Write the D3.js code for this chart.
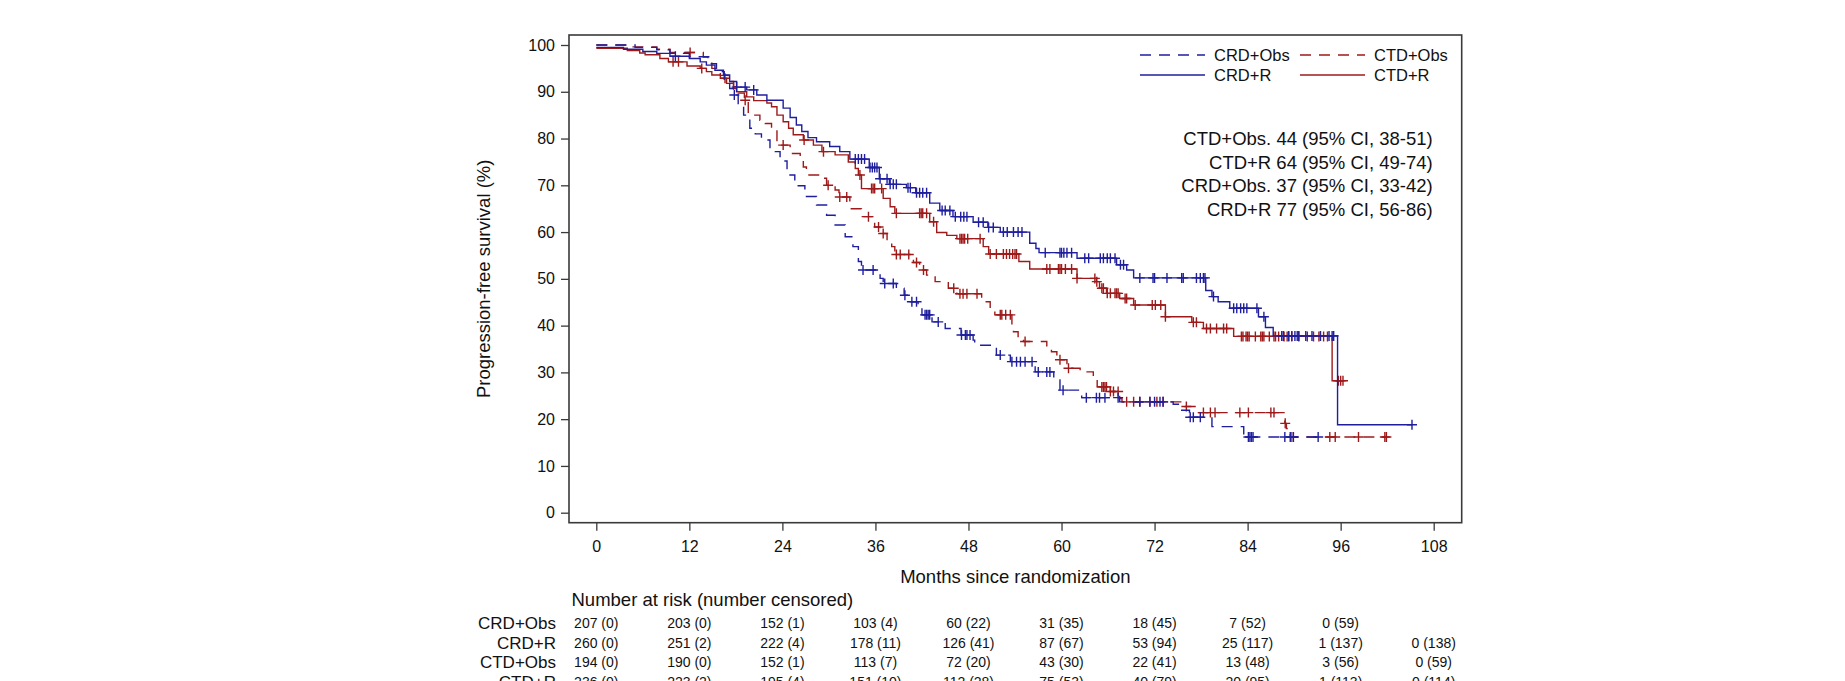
<!DOCTYPE html>
<html>
<head>
<meta charset="utf-8">
<script src="https://cdn.jsdelivr.net/npm/d3@7"></script>
<style>
  body { margin: 0; background: #fff; }
  svg { display: block; font-family: "Liberation Sans", Arial, sans-serif; }
</style>
</head>
<body>
<svg id="chart"></svg>
<script>
"use strict";

const months = [0, 12, 24, 36, 48, 60, 72, 84, 96, 108];
const yTicks = [0, 10, 20, 30, 40, 50, 60, 70, 80, 90, 100];

// Kaplan-Meier steps: [month, survival %]
const crdObsSteps = [[0, 100], [5, 99.5], [7.8, 99.0], [9.5, 98.2], [12, 97.5], [14.5, 96.0], [15.5, 94.3],
  [16.5, 92.5], [17.2, 90.7], [17.7, 89.3], [18.3, 87.5], [19, 85.0], [19.8, 82.2], [20.5, 81.0],
  [21.3, 79.7], [22.4, 77.2], [23.7, 75.2], [24.6, 72.2], [25.6, 69.9], [26.9, 67.6], [28.4, 65.8],
  [29.7, 63.6], [30.8, 61.5], [32.1, 59.0], [33.1, 56.9], [33.8, 53.7], [34.2, 51.9], [36.6, 50.1],
  [37, 49.0], [38.7, 48.0], [39.7, 46.5], [40.5, 45.1], [41.5, 43.7], [42, 42.3], [43.3, 40.8],
  [45, 39.4], [47.05, 38.0], [48.6, 36.9], [48.8, 35.8], [51, 35.1], [51.6, 33.7], [53.4, 32.3],
  [56.6, 30.1], [59, 28.4], [59.8, 26.2], [62.6, 24.6], [67.5, 23.7], [74.4, 23.2], [75.3, 21.9],
  [76.5, 20.4], [79.4, 18.4], [83.5, 16.2]];
const crdObsCens = [17.8, 34.4, 35.7, 37.2, 38.3, 39.8, 40.7, 41.3, 42.4, 42.6, 42.8, 43.0, 44.1, 47.1,
  47.6, 47.8, 48.2, 52.1, 53.6, 54.2, 54.7, 55.3, 56.2, 57.0, 58.1, 58.5, 60.2, 63.2, 64.5, 64.9, 65.6,
  67.3, 70.1, 71.4, 72.0, 72.7, 73.1, 76.6, 77.0, 77.9, 84.1, 84.3, 84.5, 84.7, 88.8, 89.5, 89.9, 93.1];
const crdObsEnd = 93.1;

const crdRSteps = [[0, 99.5], [3.5, 99.1], [6, 98.6], [7.8, 98.2], [9.5, 97.6], [12, 97.1], [13.4, 96.4],
  [14.2, 95.7], [15.3, 94.6], [16.4, 93.6], [17.2, 92.2], [18.1, 91.0], [19.4, 90.4], [20.7, 89.3],
  [22, 88.2], [24.1, 86.5], [25, 84.5], [25.8, 82.9], [26.5, 81.5], [27.3, 80.2], [28.4, 79.3],
  [30.1, 78.3], [31.4, 77.2], [32.7, 75.6], [35.2, 73.8], [36.5, 71.4], [37.8, 70.2], [40, 69.5],
  [41.2, 68.4], [43, 66.2], [44.3, 64.6], [46, 63.3], [48.6, 62.1], [50.5, 61.0], [52.1, 60.0],
  [55.9, 57.6], [56.7, 56.5], [57.1, 55.6], [62, 54.4], [67.1, 53.0], [68.4, 51.9], [69.3, 50.2],
  [78.6, 47.5], [79.4, 46.2], [80.2, 45.1], [81.7, 43.7], [85.4, 41.9], [86.3, 39.6], [87.3, 37.8],
  [95.6, 18.8]];
const crdRCens = [10.2, 18.1, 19.2, 20.3, 33.4, 33.8, 34.2, 34.6, 35.3, 35.6, 35.9, 36.2, 36.6, 37.5,
  37.9, 38.3, 38.7, 40.2, 40.5, 41.3, 41.7, 42.1, 42.6, 44.6, 45.0, 45.6, 46.3, 47.0, 47.4, 47.8, 49.3,
  49.9, 50.6, 51.2, 52.5, 53.0, 53.8, 54.4, 54.9, 57.9, 59.8, 60.0, 60.3, 60.7, 61.3, 63.0, 63.5, 65.0,
  65.4, 65.9, 66.3, 66.9, 67.6, 68.0, 70.1, 71.8, 72.0, 73.6, 75.5, 75.7, 77.4, 77.9, 78.3, 78.5, 79.6,
  82.2, 82.6, 83.1, 83.5, 83.9, 85.2, 86.1, 88.4, 88.6, 89.3, 89.7, 90.1, 90.4, 90.6, 91.5, 92.3, 93.4,
  94.5, 94.9, 95.1, 105.2];
const crdREnd = 105.2;

const ctdObsSteps = [[0, 100], [4, 99.6], [7.8, 99.1], [9.5, 98.4], [13.8, 97.4], [14.4, 96.1], [14.9, 95.0],
  [16, 93.5], [17, 92.2], [17.7, 91.1], [18.3, 89.7], [19.1, 88.2], [19.6, 85.0], [21.1, 83.9],
  [21.8, 83.2], [22.6, 81.8], [23.3, 78.6], [25, 76.8], [26.3, 75.7], [26.7, 73.9], [27.1, 72.2],
  [29.1, 71.5], [29.7, 70.0], [30.8, 69.0], [31.3, 67.5], [32.7, 65.0], [34.2, 63.3], [35.9, 61.1],
  [36.6, 59.7], [37.5, 57.9], [38.1, 56.9], [38.5, 55.2], [40.9, 53.5], [41.7, 51.9], [42.6, 50.8],
  [43.7, 49.4], [45.4, 48.0], [46.5, 46.8], [49.7, 45.1], [50.8, 43.7], [51.4, 42.3], [53.6, 40.1],
  [53.8, 38.7], [54.4, 37.3], [55.1, 36.6], [58.1, 35.5], [58.7, 34.4], [59.4, 32.7], [60.7, 30.9],
  [62.4, 30.1], [64.1, 28.7], [64.6, 26.9], [66.3, 25.9], [67.5, 24.4], [67.8, 23.7], [75.9, 22.7],
  [77.4, 21.4], [88.8, 19.1], [89, 18.0], [89.5, 16.2]];
const ctdObsCens = [12.1, 19.2, 24.1, 29.9, 31.4, 32.3, 35.1, 36.4, 37.0, 38.7, 39.2, 40.3, 41.3, 42.2,
  46.1, 46.9, 47.3, 47.8, 49.1, 52.1, 52.3, 52.8, 53.4, 55.3, 59.8, 60.9, 65.2, 65.4, 65.6, 65.8, 66.3,
  66.7, 67.3, 68.4, 69.3, 70.1, 71.4, 72.3, 73.1, 76.1, 78.3, 79.2, 79.8, 83.0, 84.1, 87.0, 87.4, 88.85,
  89.6, 89.9, 94.6, 95.3, 98.3, 101.7, 101.9];
const ctdObsEnd = 101.9;

const ctdRSteps = [[0, 99.3], [4, 98.8], [5.6, 98.3], [6.3, 97.9], [8.2, 97.1], [9.3, 96.4], [11.7, 95.5],
  [13.4, 95.0], [14.2, 94.3], [14.9, 93.6], [16, 92.9], [16.8, 91.8], [17.7, 90.7], [18.1, 90.0],
  [19.4, 88.9], [20.3, 88.1], [22, 87.6], [22.6, 86.8], [23.3, 85.0], [24.1, 83.6], [24.8, 82.2],
  [25.4, 80.8], [26.7, 79.7], [28, 78.6], [29.1, 77.2], [30.8, 76.5], [32.5, 75.0], [33.4, 73.6],
  [33.8, 72.2], [34.2, 69.3], [37, 67.2], [37.9, 65.4], [38.5, 64.0], [43, 62.2], [43.9, 59.9],
  [45.2, 59.3], [46.5, 58.6], [49.9, 56.9], [50.6, 55.3], [54.5, 53.7], [55.9, 52.1], [62, 50.1],
  [64.5, 49.4], [64.9, 48.0], [65.8, 46.9], [67.5, 45.8], [69.3, 44.4], [73.4, 41.9], [76.8, 40.7],
  [78.3, 39.4], [82.2, 37.7], [94.9, 28.2]];
const ctdRCens = [9.9, 10.6, 13.6, 16.6, 26.8, 29.3, 34.0, 35.5, 35.7, 35.9, 36.8, 38.7, 41.7, 41.9, 42.1,
  42.6, 43.5, 46.9, 47.1, 47.3, 47.5, 47.9, 49.5, 50.8, 51.6, 52.5, 52.9, 53.3, 53.7, 54.0, 54.2, 58.1,
  58.5, 59.6, 59.8, 60.0, 60.5, 61.3, 62.0, 64.3, 64.55, 65.2, 65.4, 65.9, 66.3, 66.9, 67.1, 67.3, 68.2,
  68.4, 69.5, 71.7, 72.1, 72.8, 73.4, 77.0, 77.4, 78.7, 79.2, 80.0, 80.9, 81.3, 83.2, 83.4, 83.8, 84.0,
  84.2, 85.0, 85.7, 85.9, 86.1, 86.8, 87.4, 87.6, 88.0, 88.7, 89.1, 89.3, 89.7, 90.6, 91.7, 92.5, 93.2,
  93.8, 94.3, 95.7, 96.0, 96.3];
const ctdREnd = 96.3;

// number at risk (number censored)
const riskGroups = ["CRD+Obs", "CRD+R", "CTD+Obs", "CTD+R"];
const riskCrdObs = ["207 (0)", "203 (0)", "152 (1)", "103 (4)", "60 (22)", "31 (35)", "18 (45)", "7 (52)", "0 (59)", ""];
const riskCrdR = ["260 (0)", "251 (2)", "222 (4)", "178 (11)", "126 (41)", "87 (67)", "53 (94)", "25 (117)", "1 (137)", "0 (138)"];
const riskCtdObs = ["194 (0)", "190 (0)", "152 (1)", "113 (7)", "72 (20)", "43 (30)", "22 (41)", "13 (48)", "3 (56)", "0 (59)"];
const riskCtdR = ["236 (0)", "223 (2)", "195 (4)", "151 (10)", "112 (28)", "75 (53)", "40 (79)", "20 (95)", "1 (113)", "0 (114)"];

const medianLines = ["CTD+Obs. 44 (95% CI, 38-51)", "CTD+R 64 (95% CI, 49-74)",
  "CRD+Obs. 37 (95% CI, 33-42)", "CRD+R 77 (95% CI, 56-86)"];

const width = 1845;
const height = 681;
const blue = "#1f1f9e";
const red = "#9e1a1a";
const dash = "11,8";

const svg = d3.select("#chart").attr("width", width).attr("height", height);

const xScale = d3.scaleLinear().domain([0, 108]).range([596.3, 1433.7]);
const yScale = d3.scaleLinear().domain([0, 100]).range([512.7, 45]);

const frame = { left: 569, right: 1461.7, top: 35, bottom: 522.7 };

svg.append("rect")
  .attr("x", frame.left).attr("y", frame.top)
  .attr("width", frame.right - frame.left).attr("height", frame.bottom - frame.top)
  .attr("fill", "none").attr("stroke", "#3a3a3a").attr("stroke-width", 1.6);

const xAxis = d3.axisBottom(xScale).tickValues(months).tickSize(8).tickPadding(10).tickSizeOuter(0);
const yAxis = d3.axisLeft(yScale).tickValues(yTicks).tickSize(8).tickPadding(6).tickSizeOuter(0);

const gx = svg.append("g").attr("transform", `translate(0,${frame.bottom})`).call(xAxis);
const gy = svg.append("g").attr("transform", `translate(${frame.left},0)`).call(yAxis);
[gx, gy].forEach((g) => {
  g.select(".domain").remove();
  g.selectAll("line").attr("stroke", "#3a3a3a").attr("stroke-width", 1.3);
  g.selectAll("text").attr("fill", "#111").style("font-size", "16px")
    .style("font-family", "'Liberation Sans', Arial, sans-serif");
});

svg.append("text")
  .attr("x", (frame.left + frame.right) / 2).attr("y", 577).attr("dy", "0.35em")
  .attr("text-anchor", "middle").style("font-size", "18.5px").attr("fill", "#111")
  .text("Months since randomization");

svg.append("text")
  .attr("transform", `translate(484,${(frame.top + frame.bottom) / 2}) rotate(-90)`)
  .attr("dy", "0.35em").attr("text-anchor", "middle").style("font-size", "18.5px").attr("fill", "#111")
  .text("Progression-free survival (%)");

// curves
const line = d3.line().x((d) => xScale(d[0])).y((d) => yScale(d[1])).curve(d3.curveStepAfter);

const stepValue = (steps, t) => {
  let v = steps[0][1];
  steps.forEach((s) => { if (s[0] <= t) v = s[1]; });
  return v;
};

const curves = [
  { steps: ctdObsSteps, cens: ctdObsCens, end: ctdObsEnd, color: red, dashed: true },
  { steps: ctdRSteps, cens: ctdRCens, end: ctdREnd, color: red, dashed: false },
  { steps: crdObsSteps, cens: crdObsCens, end: crdObsEnd, color: blue, dashed: true },
  { steps: crdRSteps, cens: crdRCens, end: crdREnd, color: blue, dashed: false },
];

curves.forEach((c) => {
  const pts = c.steps.concat([[c.end, c.steps[c.steps.length - 1][1]]]);
  svg.append("path")
    .attr("d", line(pts))
    .attr("fill", "none")
    .attr("stroke", c.color)
    .attr("stroke-width", 1.4)
    .attr("stroke-dasharray", c.dashed ? dash : null);

  svg.append("g").selectAll("path")
    .data(c.cens)
    .enter()
    .append("path")
    .attr("d", (t) => {
      const x = xScale(t);
      const y = yScale(stepValue(c.steps, t));
      return `M${x - 5},${y}H${x + 5}M${x},${y - 5}V${y + 5}`;
    })
    .attr("stroke", c.color)
    .attr("stroke-width", 1.4)
    .attr("fill", "none");
});

// legend
const legendItems = [
  { label: "CRD+Obs", color: blue, dashed: true, x: 1140, y: 55 },
  { label: "CTD+Obs", color: red, dashed: true, x: 1300, y: 55 },
  { label: "CRD+R", color: blue, dashed: false, x: 1140, y: 75 },
  { label: "CTD+R", color: red, dashed: false, x: 1300, y: 75 },
];
legendItems.forEach((d) => {
  svg.append("line")
    .attr("x1", d.x).attr("x2", d.x + 65).attr("y1", d.y).attr("y2", d.y)
    .attr("stroke", d.color).attr("stroke-width", 1.4)
    .attr("stroke-dasharray", d.dashed ? dash : null);
  svg.append("text")
    .attr("x", d.x + 74).attr("y", d.y).attr("dy", "0.35em")
    .style("font-size", "16.5px").attr("fill", "#111")
    .text(d.label);
});

// medians
svg.append("g").selectAll("text")
  .data(medianLines)
  .enter()
  .append("text")
  .attr("x", 1432.7)
  .attr("y", (d, i) => 139 + i * 23.4)
  .attr("dy", "0.35em")
  .attr("text-anchor", "end")
  .style("font-size", "18.5px")
  .attr("fill", "#111")
  .text((d) => d);

// number at risk table
svg.append("text")
  .attr("x", 571.5).attr("y", 600).attr("dy", "0.35em")
  .style("font-size", "18.5px").attr("fill", "#111")
  .text("Number at risk (number censored)");

const riskRows = [riskCrdObs, riskCrdR, riskCtdObs, riskCtdR];
riskRows.forEach((row, i) => {
  const y = 623.3 + i * 19.5;
  svg.append("text")
    .attr("x", 556).attr("y", y).attr("dy", "0.35em")
    .attr("text-anchor", "end").style("font-size", "17px").attr("fill", "#111")
    .text(riskGroups[i]);
  svg.append("g").selectAll("text")
    .data(row)
    .enter()
    .append("text")
    .attr("x", (d, j) => xScale(months[j]))
    .attr("y", y)
    .attr("dy", "0.35em")
    .attr("text-anchor", "middle")
    .style("font-size", "14px")
    .attr("fill", "#111")
    .text((d) => d);
});
</script>
</body>
</html>
